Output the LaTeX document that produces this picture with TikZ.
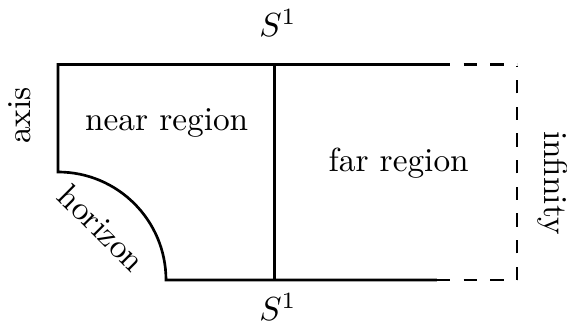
\documentclass[tikz,border=0pt]{standalone}
\begin{document}
\begin{tikzpicture}[x=0.3pt,y=0.3pt,
  edge/.style={line width=0.8pt},
  dashedge/.style={line width=0.8pt,dash pattern=on 4pt off 4pt},
  lbl/.style={inner sep=0pt,anchor=base}]
\useasboundingbox (0,0) rectangle (567,322);
\coordinate (tl) at (58,257.5);
\coordinate (hl) at (58,150);
\coordinate (hb) at (166,42);
\coordinate (tm) at (274.3,257.5);
\coordinate (bm) at (274.3,42);
\coordinate (ts) at (437,257.5);
\coordinate (bs) at (437,42);
\coordinate (tr) at (517,257.5);
\coordinate (br) at (517,42);
\coordinate (trv) at (517,255.5);
% solid outline
\draw[edge] (ts) -- (tl) -- (hl) arc[start angle=90,end angle=0,radius=108] -- (bs);
\draw[edge] (tm) -- (bm);
% dashed parts
\draw[dashedge] (ts) -- (tr);
\draw[dashedge] (bs) -- (br);
\draw[dashedge] (br) -- (trv);
% labels
\node[lbl] (s1t) at (278,285) {$S^1$};
\node[lbl] (s1b) at (278,1.5) {$S^1$};
\node[lbl,rotate=90] (axis) at (31,206.5) {axis};
\node[lbl,rotate=-90] (inf) at (545,139) {infinity};
\node[lbl] (near) at (166.7,191) {near region};
\node[lbl] (far) at (398.7,150.3) {far region};
\node[inner sep=0pt,rotate=-45] (hor) at (102,94) {horizon};
\end{tikzpicture}
\end{document}
